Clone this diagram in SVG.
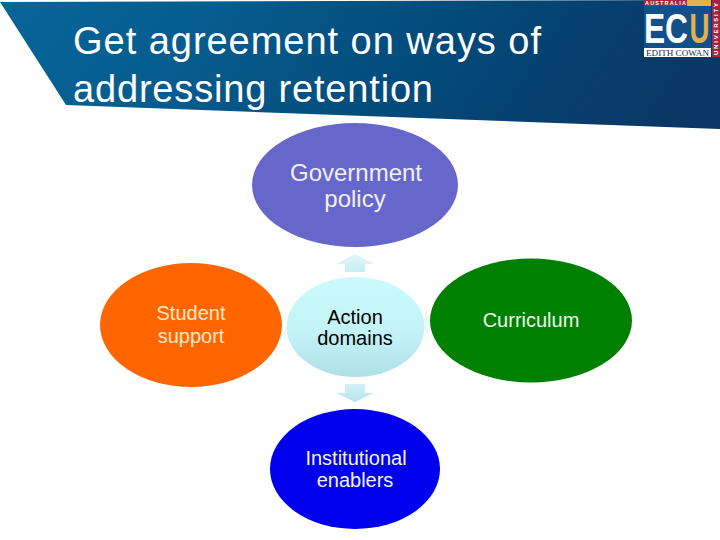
<svg xmlns="http://www.w3.org/2000/svg" width="720" height="540" viewBox="0 0 720 540">
<style>
text{font-family:"Liberation Sans",Arial,sans-serif;text-anchor:middle;fill:#000}
.title{fill:#fff;font-size:38px;text-anchor:start}
.n{font-size:20px}
.l{font-size:24px}
.ecu{font-weight:bold;fill:#fff}
</style>
<defs>
<linearGradient id="banner" x1="0" y1="0" x2="1" y2="0.12"><stop offset="0" stop-color="#07659a"/><stop offset="0.3" stop-color="#065c8e"/><stop offset="0.65" stop-color="#024a7a"/><stop offset="1" stop-color="#0a3766"/></linearGradient>
<linearGradient id="centre" x1="0" y1="0" x2="0" y2="1"><stop offset="0" stop-color="#cbfafc"/><stop offset="0.55" stop-color="#c4f3f7"/><stop offset="1" stop-color="#aee0e8"/></linearGradient>
<linearGradient id="up" x1="0" y1="0" x2="0" y2="1"><stop offset="0" stop-color="#e2f7f9"/><stop offset="1" stop-color="#c8eef2"/></linearGradient>
<linearGradient id="down" x1="0" y1="0" x2="0" y2="1"><stop offset="0" stop-color="#d2f2f6"/><stop offset="1" stop-color="#b8e2ea"/></linearGradient>
</defs>
<rect width="720" height="540" fill="#fff"/>
<polygon points="0,2 720,0 720,129 66,105" fill="url(#banner)"/>
<text class="title" x="73" y="54" textLength="468">Get agreement on ways of</text>
<text class="title" x="73" y="102" textLength="360">addressing retention</text>
<g id="logo">
<rect x="644" y="0" width="43" height="6" fill="#a6243f"/>
<rect x="687" y="0" width="24" height="6" fill="#e3b04b"/>
<rect x="712" y="0" width="8" height="57" fill="#a6243f"/>
<rect x="644" y="6" width="67" height="42" fill="#12508a"/>
<text class="ecu" x="665.500" y="5.300" font-size="5.500" textLength="41">AUSTRALIA</text>
<text class="ecu" font-size="6" textLength="52" transform="translate(718,29) rotate(-90)">UNIVERSITY</text>
<text class="ecu" x="644" y="43" font-size="42" style="text-anchor:start" textLength="44" lengthAdjust="spacingAndGlyphs">EC</text>
<text x="699.500" y="43" font-size="42" font-weight="bold" style="fill:#e3b04b" textLength="20" lengthAdjust="spacingAndGlyphs">U</text>
<rect x="644" y="48" width="67" height="9" fill="#fff"/>
<text x="677.500" y="55.500" font-size="8" style="font-family:'Liberation Serif',serif;fill:#1a2a50" textLength="63" lengthAdjust="spacingAndGlyphs">EDITH COWAN</text>
</g>
<g id="connectors">
<polygon points="355,254 374,264 365,264 365,272 345,272 345,264 336,264" fill="url(#up)"/>
<polygon points="345,384 365,384 365,393 374,393 355,402 336,393 345,393" fill="url(#down)"/>
<polygon points="286,325 286,343 283,334" fill="#eef9fa"/>
<polygon points="425,307 425,343 430,325" fill="#eef9fa"/>
</g>
<g id="government-policy"><ellipse cx="355" cy="185" rx="103" ry="62" fill="#6767cb"/><text class="l" x="356" y="181" style="fill:#f0f0fa">Government</text><text class="l" x="355" y="207" style="fill:#f0f0fa">policy</text></g>
<g id="student-support"><ellipse cx="191" cy="325" rx="91" ry="62" fill="#ff6600"/><text class="n" x="191" y="320" style="fill:#ffe8c8">Student</text><text class="n" x="191" y="343" style="fill:#ffe8c8">support</text></g>
<g id="action-domains"><ellipse cx="355.500" cy="327" rx="69" ry="50" fill="url(#centre)"/><text class="n" x="355" y="324">Action</text><text class="n" x="355" y="345">domains</text></g>
<g id="curriculum"><ellipse cx="531" cy="320.500" rx="101" ry="62" fill="#008000"/><text class="n" x="531" y="327" style="fill:#f0f8f0">Curriculum</text></g>
<g id="institutional-enablers"><ellipse cx="355" cy="469" rx="85" ry="60" fill="#0000ee"/><text class="n" x="356" y="465" style="fill:#f4f4ff">Institutional</text><text class="n" x="355" y="487" style="fill:#f4f4ff">enablers</text></g>
</svg>
